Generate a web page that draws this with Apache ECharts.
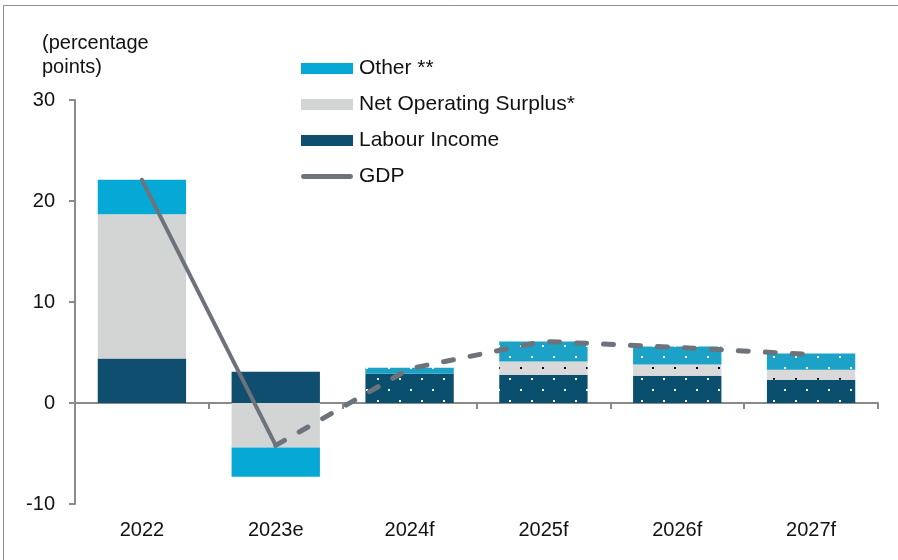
<!DOCTYPE html>
<html>
<head>
<meta charset="utf-8">
<script src="https://cdn.jsdelivr.net/npm/echarts@6/dist/echarts.min.js"></script>
<style>
  html, body { margin: 0; padding: 0; background: #fff; }
  #chart { width: 898px; height: 560px; }
</style>
</head>
<body>
<div id="chart"></div>
<script>
// Contributions to nominal GDP growth, percentage points
const categories = ['2022', '2023e', '2024f', '2025f', '2026f', '2027f'];
const labourIncome = [4.4, 3.1, 2.9, 2.8, 2.7, 2.3];
const netOperatingSurplus = [14.3, -4.4, 0, 1.3, 1.1, 1.0];
const otherItems = [3.4, -2.9, 0.6, 2.0, 1.8, 1.6];
const gdp = [22.1, -4.2, 3.4, 6.1, 5.5, 4.8];
const yTicks = [-10, 0, 10, 20, 30];
const firstForecast = 2;   // index of the first forecast year
const lastActual = 1;      // GDP line turns dashed from this point

const FONT = '"Liberation Sans", Arial, sans-serif';
const GREY_LINE = '#6c737b';
const AXIS = '#8a8a8a';

// Dotted fill used for the forecast years
function dotPattern(bg, dot) {
  const c = document.createElement('canvas');
  c.width = 22; c.height = 22;
  const g = c.getContext('2d');
  g.fillStyle = bg; g.fillRect(0, 0, 22, 22);
  g.fillStyle = dot;
  g.fillRect(3, 4, 2, 2);
  g.fillRect(14, 15, 2, 2);
  return { image: c, repeat: 'repeat' };
}

function withForecastFill(values, pattern) {
  return values.map((v, i) => i >= firstForecast ? { value: v, itemStyle: { color: pattern } } : v);
}

const labourFc = dotPattern('#0b4f6e', '#ffffff');
const nosFc = dotPattern('#d9d9d9', '#000000');
const otherFc = dotPattern('#1ca1c7', '#ffffff');

const chart = echarts.init(document.getElementById('chart'), null, { renderer: 'canvas' });

chart.setOption({
  animation: false,
  textStyle: { fontFamily: FONT },
  title: {
    text: '(percentage\npoints)',
    left: 37, top: 26,
    textStyle: { fontFamily: FONT, fontSize: 20, fontWeight: 'normal', color: '#111', lineHeight: 24 }
  },
  graphic: [{
    type: 'polyline',
    shape: { points: [[3.5, 565], [3.5, 5.5], [900, 5.5]] },
    style: { stroke: '#8f8f8f', lineWidth: 1, fill: null },
    silent: true
  }],
  legend: {
    orient: 'vertical',
    left: 301, top: 58,
    padding: 0,
    itemWidth: 52, itemHeight: 11,
    itemGap: 15,
    selectedMode: false,
    textStyle: { fontFamily: FONT, fontSize: 21, color: '#111', padding: [0, 0, 0, 1] },
    data: [
      { name: 'Other **', icon: 'rect' },
      { name: 'Net Operating Surplus*', icon: 'rect' },
      { name: 'Labour Income', icon: 'rect' },
      { name: 'GDP', icon: 'path://M2.5,0 L51.5,0 A2.5,2.5 0 0 1 51.5,5 L2.5,5 A2.5,2.5 0 0 1 2.5,0 Z', itemStyle: { color: GREY_LINE } }
    ]
  },
  grid: { left: 75, right: 20, top: 100, bottom: 56, containLabel: false },
  xAxis: [{
    type: 'category',
    data: categories,
    axisLine: { onZero: true, lineStyle: { color: AXIS, width: 2 } },
    axisTick: { show: true, length: 6, lineStyle: { color: AXIS, width: 2 } },
    axisLabel: { show: false },
    splitLine: { show: false }
  }, {
    type: 'category',
    data: categories,
    position: 'bottom',
    axisLine: { show: false, onZero: false },
    axisTick: { show: false },
    axisLabel: { fontFamily: FONT, fontSize: 20, color: '#111', margin: 16 }
  }],
  yAxis: {
    type: 'value',
    min: yTicks[0],
    max: yTicks[yTicks.length - 1],
    interval: yTicks[1] - yTicks[0],
    axisLine: { show: true, lineStyle: { color: AXIS, width: 2 } },
    axisTick: { show: true, length: 6, lineStyle: { color: AXIS, width: 2 } },
    axisLabel: { fontFamily: FONT, fontSize: 20, color: '#111', margin: 20 },
    splitLine: { show: false }
  },
  series: [
    {
      name: 'Labour Income', type: 'bar', stack: 'gdp', barWidth: '66%',
      itemStyle: { color: '#0f4e6e' },
      data: withForecastFill(labourIncome, labourFc)
    },
    {
      name: 'Net Operating Surplus*', type: 'bar', stack: 'gdp', barWidth: '66%',
      itemStyle: { color: '#d3d5d5' },
      data: withForecastFill(netOperatingSurplus, nosFc)
    },
    {
      name: 'Other **', type: 'bar', stack: 'gdp', barWidth: '66%',
      itemStyle: { color: '#06a9d6' },
      data: withForecastFill(otherItems, otherFc)
    },
    {
      name: 'GDP', type: 'line', symbol: 'none', z: 5,
      lineStyle: { color: GREY_LINE, width: 4, cap: 'round' },
      itemStyle: { color: GREY_LINE },
      data: gdp.map((v, i) => i <= lastActual ? v : '-')
    },
    {
      name: 'GDP', type: 'line', symbol: 'none', z: 5,
      lineStyle: { color: GREY_LINE, width: 5, cap: 'round', type: [10, 17] },
      itemStyle: { color: GREY_LINE },
      data: gdp.map((v, i) => i >= lastActual ? v : '-')
    }
  ]
});
</script>
</body>
</html>
